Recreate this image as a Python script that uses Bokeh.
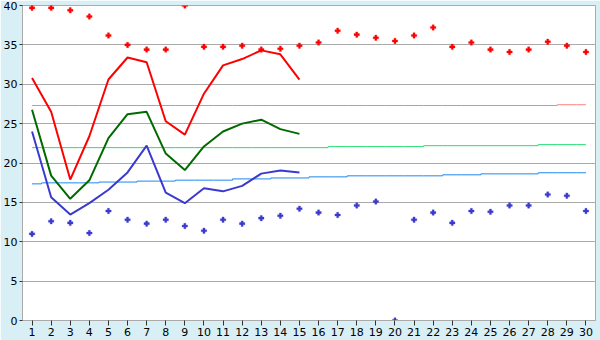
from bokeh.plotting import figure
from bokeh.models import Range1d, FixedTicker
from bokeh.embed import file_html
from bokeh.resources import INLINE

days = list(range(1, 31))
days15 = list(range(1, 16))

max_dots = [39.7, 39.7, 39.4, 38.6, 36.2, 35.0, 34.4, 34.4, 40.0, 34.75,
            34.75, 34.9, 34.4, 34.5, 34.9, 35.3, 36.8, 36.3, 35.9, 35.5,
            36.2, 37.2, 34.75, 35.3, 34.4, 34.1, 34.4, 35.4, 34.9, 34.1]
min_dots = [11.0, 12.6, 12.4, 11.1, 13.9, 12.8, 12.3, 12.8, 12.0, 11.4,
            12.8, 12.3, 13.0, 13.3, 14.2, 13.7, 13.4, 14.6, 15.1, 0.0,
            12.8, 13.7, 12.4, 13.9, 13.8, 14.6, 14.6, 16.0, 15.85, 13.9]

max_line = [30.8, 26.5, 17.9, 23.4, 30.6, 33.4, 32.8, 25.3, 23.6, 28.8,
            32.4, 33.2, 34.3, 33.8, 30.6]
mean_line = [26.75, 18.4, 15.45, 17.8, 23.15, 26.2, 26.5, 21.2, 19.1, 22.1,
             24.0, 25.0, 25.5, 24.3, 23.7]
min_line = [24.0, 15.65, 13.45, 14.9, 16.6, 18.8, 22.2, 16.25, 14.9, 16.8,
            16.4, 17.1, 18.65, 19.05, 18.8]

norm_max = [27.3] * 28 + [27.4] * 2
norm_mean = [21.95] * 16 + [22.08] * 5 + [22.2] * 6 + [22.33] * 3
norm_min = ([17.35] + [17.48] * 3 + [17.58] * 2 + [17.7] * 2 + [17.82] * 3 +
            [17.98] * 2 + [18.1] * 2 + [18.24] * 2 + [18.37] * 5 +
            [18.5] * 2 + [18.62] * 3 + [18.76] * 3)

y_ticks = [0, 5, 10, 15, 20, 25, 30, 35, 40]

p = figure(width=600, height=340, output_backend="svg", toolbar_location=None,
           x_range=Range1d(0.5, 30.5), y_range=Range1d(0, 40),
           min_border_left=20, min_border_right=5, min_border_top=5,
           min_border_bottom=20)
p.border_fill_color = "#d9eff6"
p.background_fill_color = "white"
p.outline_line_color = "#aaaaaa"
p.outline_line_width = 1

grid = "#aaaaaa"
p.xgrid.grid_line_color = None
p.ygrid.grid_line_color = grid
p.ygrid.ticker = FixedTicker(ticks=y_ticks)

p.xaxis.ticker = FixedTicker(ticks=days)
p.yaxis.ticker = FixedTicker(ticks=y_ticks)
for ax in (p.xaxis[0], p.yaxis[0]):
    ax.axis_line_color = grid
    ax.major_tick_line_color = "#333333"
    ax.minor_tick_line_color = None
    ax.major_tick_in = 0
    ax.major_label_text_font = "DejaVu Sans"
    ax.major_label_text_font_size = "11px"
    ax.major_label_text_color = "#000000"
p.xaxis.major_tick_out = 5
p.xaxis.major_label_standoff = 2
p.yaxis.major_tick_out = 3
p.yaxis.major_label_standoff = 2

# normals (step lines)
p.step(days, norm_max, mode="center", line_color="#ff8080", line_width=1)
p.step(days, norm_mean, mode="center", line_color="#22e070", line_width=1)
p.step(days, norm_min, mode="center", line_color="#1e88f0", line_width=1)

# observed lines
p.line(days15, max_line, line_color="#ff0000", line_width=2)
p.line(days15, mean_line, line_color="#006a00", line_width=2)
p.line(days15, min_line, line_color="#3a3ad0", line_width=2)

# extremes
p.scatter(days, max_dots, marker="plus", size=5.5, fill_color="#ff0000",
          line_color="#ff0000", line_width=0.3)
p.scatter(days, min_dots, marker="plus", size=5.5, fill_color="#3a3ad0",
          line_color="#3a3ad0", line_width=0.3)

open("out.html", "w").write(file_html(p, INLINE))
